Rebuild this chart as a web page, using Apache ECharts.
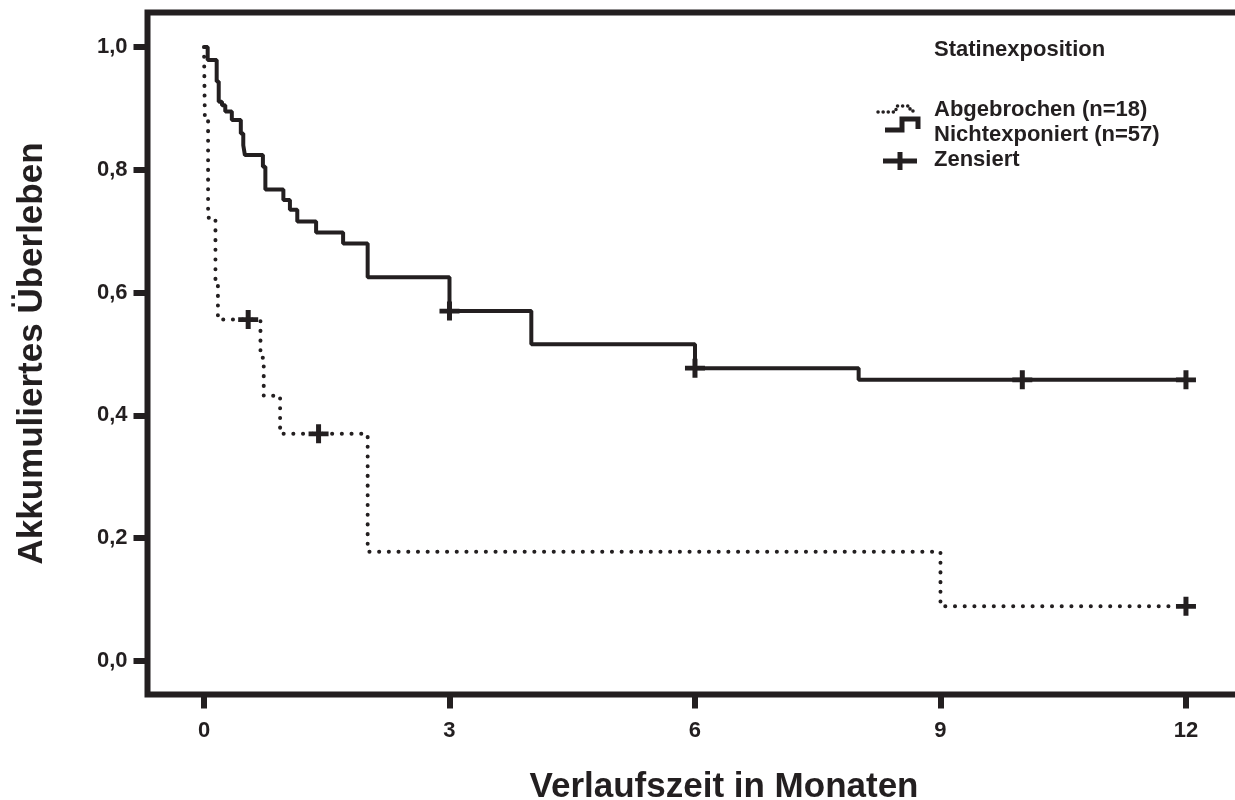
<!DOCTYPE html>
<html>
<head>
<meta charset="utf-8">
<script src="https://cdn.jsdelivr.net/npm/echarts@6/dist/echarts.min.js"></script>
<style>
html,body{margin:0;padding:0;background:#fff;}
#chart{width:1235px;height:800px;}
</style>
</head>
<body>
<div id="chart"></div>
<script>
// ---- data ----
const nichtexponiertTime = [0, 0.045, 0.155, 0.18, 0.22, 0.26, 0.34, 0.45, 0.48, 0.50, 0.72, 0.75, 0.97, 1.05, 1.14, 1.37, 1.70, 2.00, 3.00, 4.00, 6.00, 8.00, 12.00];
const nichtexponiertSurv = [1.0, 0.979, 0.944, 0.911, 0.905, 0.895, 0.881, 0.859, 0.840, 0.824, 0.805, 0.768, 0.751, 0.735, 0.716, 0.698, 0.680, 0.625, 0.570, 0.516, 0.477, 0.458, 0.458];
const abgebrochenTime = [0, 0.01, 0.05, 0.14, 0.17, 0.69, 0.73, 0.93, 2.00, 9.00, 12.00];
const abgebrochenSurv = [1.0, 0.889, 0.722, 0.611, 0.556, 0.494, 0.432, 0.370, 0.178, 0.089, 0.089];
const zensiertNichtTime = [3.0, 6.0, 10.0, 12.0];
const zensiertNichtSurv = [0.570, 0.477, 0.458, 0.458];
const zensiertAbgTime = [0.54, 1.40, 12.0];
const zensiertAbgSurv = [0.556, 0.370, 0.089];
const xTickValues = [0, 3, 6, 9, 12];
const yTickValues = [0, 0.2, 0.4, 0.6, 0.8, 1.0];
const yTickLabels = ['0,0', '0,2', '0,4', '0,6', '0,8', '1,0'];
const legendTitle = 'Statinexposition';
const legendLabels = ['Abgebrochen (n=18)', 'Nichtexponiert (n=57)', 'Zensiert'];
const xAxisTitle = 'Verlaufszeit in Monaten';
const yAxisTitle = 'Akkumuliertes Überleben';

// ---- chart ----
const ink = '#231f20';
const fam = '"Liberation Sans", Arial, Helvetica, sans-serif';
const zip = (a, b) => a.map((v, i) => [v, b[i]]);
const plus = 'path://M-2.5,-10H2.5V-2.5H10V2.5H2.5V10H-2.5V2.5H-10V-2.5H-2.5Z';

const chart = echarts.init(document.getElementById('chart'), null, {renderer: 'canvas'});
const option = {
  animation: false,
  backgroundColor: '#fff',
  grid: {left: 147.5, top: 12.5, width: 1100, height: 682, show: true, borderWidth: 6, borderColor: ink,
    backgroundColor: 'transparent', containLabel: false, outerBoundsMode: 'none'},
  xAxis: {
    type: 'value', min: -0.6904, max: 12.752,
    axisLine: {show: false, onZero: false},
    splitLine: {show: false},
    axisTick: {show: true, customValues: xTickValues, length: 14, lineStyle: {width: 6, color: ink}},
    axisLabel: {customValues: xTickValues, margin: 25, fontSize: 22, fontWeight: 'bold', fontFamily: fam, color: ink},
    name: xAxisTitle, nameLocation: 'middle', nameGap: 75,
    nameTextStyle: {fontSize: 35, fontWeight: 'bold', fontFamily: fam, color: ink, padding: [0, 0, 0, 53]}
  },
  yAxis: {
    type: 'value', min: -0.05456, max: 1.0562,
    axisLine: {show: false, onZero: false},
    splitLine: {show: false},
    axisTick: {show: true, customValues: yTickValues, length: 14, lineStyle: {width: 6, color: ink}},
    axisLabel: {customValues: yTickValues, margin: 20, fontSize: 22, fontWeight: 'bold', fontFamily: fam, color: ink,
      formatter: v => { const i = yTickValues.findIndex(t => Math.abs(t - v) < 1e-6); return i >= 0 ? yTickLabels[i] : ''; }},
    name: yAxisTitle, nameLocation: 'middle', nameGap: 98, nameRotate: 90,
    nameTextStyle: {fontSize: 35, fontWeight: 'bold', fontFamily: fam, color: ink}
  },
  series: [
    {name: legendLabels[1], type: 'line', step: 'end', data: zip(nichtexponiertTime, nichtexponiertSurv),
      showSymbol: false, symbol: 'none', lineStyle: {color: ink, width: 4}, z: 3},
    {name: legendLabels[0], type: 'line', step: 'end', data: zip(abgebrochenTime, abgebrochenSurv),
      showSymbol: false, symbol: 'none', lineStyle: {color: ink, width: 4, type: [0.1, 9.6], cap: 'round'}, z: 3},
    {name: legendLabels[2], type: 'scatter', data: zip(zensiertNichtTime, zensiertNichtSurv).concat(zip(zensiertAbgTime, zensiertAbgSurv)),
      symbol: plus, symbolSize: [20, 19], itemStyle: {color: ink, opacity: 1}, z: 4}
  ],
  graphic: [
    {type: 'text', x: 934, y: 50, style: {text: legendTitle, font: 'bold 22px ' + fam, fill: ink, verticalAlign: 'middle'}},
    {type: 'text', x: 934, y: 110, style: {text: legendLabels[0], font: 'bold 22px ' + fam, fill: ink, verticalAlign: 'middle'}},
    {type: 'text', x: 934, y: 135, style: {text: legendLabels[1], font: 'bold 22px ' + fam, fill: ink, verticalAlign: 'middle'}},
    {type: 'text', x: 934, y: 160, style: {text: legendLabels[2], font: 'bold 22px ' + fam, fill: ink, verticalAlign: 'middle'}},
    {type: 'polyline', shape: {points: [[878, 112], [896, 112], [896, 106], [910, 106], [910, 111], [918, 111]]},
      style: {stroke: ink, lineWidth: 3.5, fill: null, lineDash: [0.1, 5], lineCap: 'round'}},
    {type: 'polyline', shape: {points: [[885, 130], [902, 130], [902, 119], [918, 119], [918, 129]]},
      style: {stroke: ink, lineWidth: 5, fill: null}},
    {type: 'line', shape: {x1: 883, y1: 161, x2: 917, y2: 161}, style: {stroke: ink, lineWidth: 5}},
    {type: 'line', shape: {x1: 900, y1: 152, x2: 900, y2: 170}, style: {stroke: ink, lineWidth: 5}}
  ]
};
chart.setOption(option);
</script>
</body>
</html>
